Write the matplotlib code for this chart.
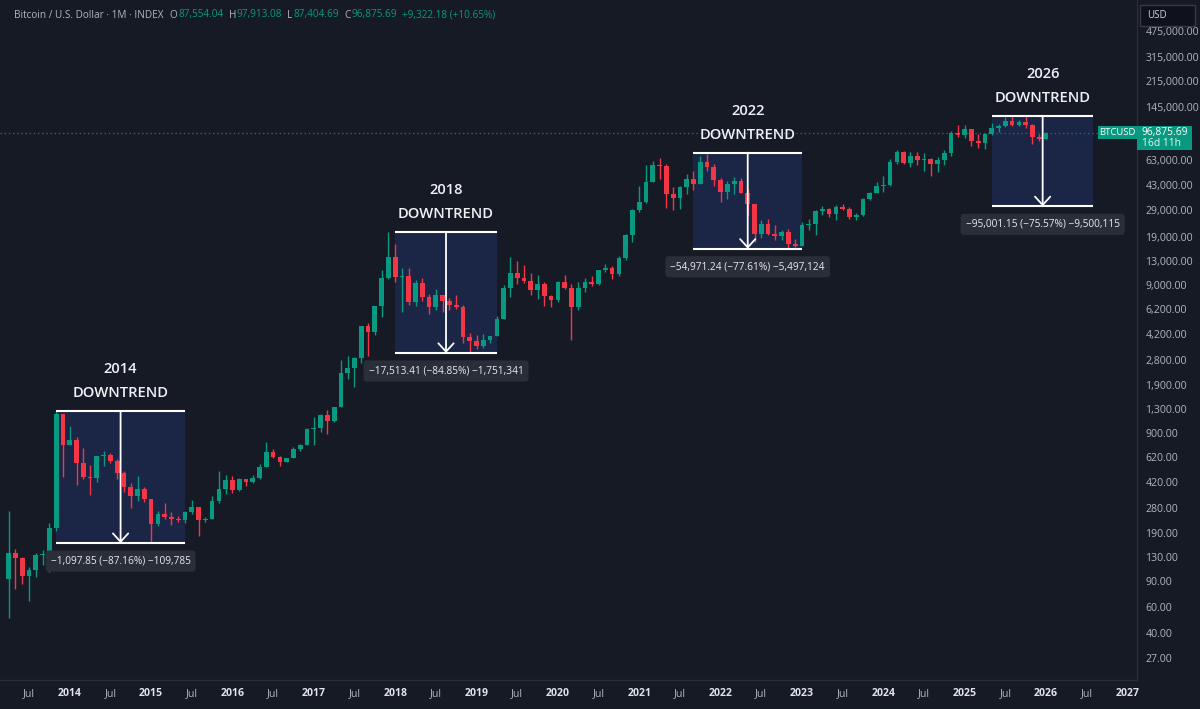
import numpy as np
import pandas as pd
import matplotlib
matplotlib.use("Agg")
import matplotlib.pyplot as plt
from matplotlib.patches import Rectangle
from matplotlib.ticker import NullLocator

plt.rcParams["font.family"] = ["Open Sans", "DejaVu Sans"]

# monthly BTC index candles, Apr 2013 .. Jan 2026
first_month = "2013-04-01"

opens = [
    93, 139, 129, 97, 106, 135, 133, 204, 1200,                                   # 2013
    750, 800, 560, 450, 448, 625, 640, 585, 480, 388, 338, 378,                   # 2014
    320, 217, 254, 244, 236, 230, 263, 284, 230, 236, 314, 377,                   # 2015
    430, 369, 436, 416, 448, 530, 673, 622, 574, 608, 698, 742,                   # 2016
    963, 965, 1190, 1080, 1348, 2300, 2480, 2875, 4735, 4340, 6460, 10000,        # 2017
    13850, 10200, 10330, 6930, 9240, 7500, 6390, 7730, 7030, 6630, 6370, 4040,    # 2018
    3740, 3460, 3850, 4100, 5330, 8570, 10820, 10080, 9600, 8300, 9150, 7550,     # 2019
    7190, 9390, 8540, 6430, 8650, 9450, 9140, 11350, 11660, 10780, 13800, 19700,  # 2020
    28990, 33100, 45200, 58800, 57700, 37300, 35040, 41460, 47100, 43800, 61300, 57000,  # 2021
    46200, 38500, 43200, 45500, 37700, 31800, 19900, 23300, 20050, 19430, 20500, 17170,  # 2022
    16550, 23130, 23150, 28480, 29250, 27200, 30480, 29230, 25940, 26970, 34650, 37720,  # 2023
    42280, 42580, 61180, 71300, 60650, 67500, 62700, 64600, 58970, 63300, 70200, 96400,  # 2024
    93400, 102400, 84350, 82550, 94200, 104600, 107100, 115700, 108250, 114050, 109600, 90400,  # 2025
    87554.04,                                                                      # 2026
]
highs = [
    266, 147, 130, 111, 139, 145, 220, 1260, 1215,
    1000, 850, 715, 545, 630, 680, 655, 600, 495, 415, 460, 385,
    320, 265, 300, 261, 247, 268, 315, 285, 243, 335, 500, 465,
    462, 445, 440, 467, 552, 780, 703, 630, 613, 720, 755, 975,
    1150, 1200, 1290, 1350, 2790, 2990, 2920, 4760, 5000, 6470, 11400, 20640,
    17200, 11800, 11700, 9760, 9990, 7780, 8500, 7760, 7400, 7680, 6600, 4300,
    4110, 4200, 4100, 5600, 9080, 13880, 13200, 12300, 10950, 10500, 9500, 7750,
    9580, 10500, 9180, 9480, 10080, 10380, 11440, 12480, 12090, 14100, 19940, 29300,
    41950, 58350, 61780, 64900, 59600, 41300, 42400, 50500, 52900, 67000, 69000, 59100,
    47900, 45800, 48200, 47500, 40000, 31900, 24700, 25200, 22800, 21100, 21500, 18400,
    23900, 25250, 29200, 31000, 29850, 31400, 31800, 30200, 27500, 35200, 38450, 44700,
    48970, 64000, 73800, 72800, 71950, 72000, 70000, 65600, 66500, 73600, 99800, 108300,
    109500, 102500, 95000, 95750, 111900, 110500, 123200, 124500, 117900, 125713, 110700, 94600,
    97913.08,
]
lows = [
    50, 79, 86, 66, 96, 115, 103, 196, 455,
    740, 400, 440, 340, 420, 540, 565, 440, 360, 280, 310, 305,
    162, 212, 236, 215, 225, 220, 253, 180, 225, 236, 300, 350,
    355, 365, 395, 413, 440, 530, 605, 535, 570, 605, 680, 740,
    750, 915, 890, 1060, 1345, 2100, 1830, 2670, 2980, 4110, 5500, 9900,
    9400, 5900, 6600, 6450, 7050, 5750, 6070, 5880, 6100, 6200, 3650, 3127,
    3350, 3400, 3680, 4080, 5330, 7450, 9100, 9350, 7700, 7300, 6530, 6430,
    6870, 8450, 3850, 6150, 8130, 8920, 8970, 10980, 9880, 10380, 13250, 17600,
    28130, 32300, 45000, 47000, 30000, 28800, 29300, 37300, 39600, 43300, 53300, 42000,
    32900, 34300, 37200, 37600, 26700, 17600, 18800, 19600, 18150, 18200, 15860, 16300,
    16500, 21400, 19550, 26950, 25850, 24800, 28900, 25300, 24900, 26550, 34100, 37600,
    38500, 41900, 59000, 59200, 56550, 58500, 53500, 49100, 52600, 58900, 66800, 90500,
    89200, 78200, 76600, 74500, 93400, 98200, 105300, 107300, 107300, 103500, 80600, 84500,
    87404.69,
]
closes = [
    139, 129, 97, 106, 135, 137, 204, 1200, 750,
    800, 560, 450, 448, 625, 640, 585, 480, 388, 338, 378, 320,
    217, 254, 244, 236, 230, 263, 284, 230, 236, 314, 377, 430,
    369, 436, 416, 448, 530, 673, 622, 574, 608, 698, 742, 963,
    965, 1190, 1080, 1348, 2300, 2480, 2875, 4735, 4340, 6460, 10000, 13850,
    10200, 10330, 6930, 9240, 7500, 6390, 7730, 7030, 6630, 6370, 4040, 3740,
    3460, 3850, 4100, 5330, 8570, 10820, 10080, 9600, 8300, 9150, 7550, 7190,
    9390, 8540, 6430, 8650, 9450, 9140, 11350, 11660, 10780, 13800, 19700, 28990,
    33100, 45200, 58800, 57700, 37300, 35040, 41460, 47100, 43800, 61300, 57000, 46200,
    38500, 43200, 45500, 37700, 31800, 19900, 23300, 20050, 19430, 20500, 17170, 16550,
    23130, 23150, 28480, 29250, 27200, 30480, 29230, 25940, 26970, 34650, 37720, 42280,
    42580, 61180, 71300, 60650, 67500, 62700, 64600, 58970, 63300, 70200, 96400, 93400,
    102400, 84350, 82550, 94200, 104600, 107100, 115700, 108250, 114050, 109600, 90400, 87554.04,
    96875.69,
]

# price range measurements (date range boxes)
box_titles = ["2014", "2018", "2022", "2026"]
box_start = ["2013-11", "2018-01", "2021-09", "2025-05"]
box_end = ["2015-06", "2019-04", "2023-01", "2026-08"]
box_change = [-1097.85, -17513.41, -54971.24, -95001.15]
box_pct = [-87.16, -84.85, -77.61, -75.57]
box_ticks = [-109785, -1751341, -5497124, -9500115]

y_ticks = [27, 40, 60, 90, 130, 190, 280, 420, 620, 900, 1300, 1900, 2800, 4200,
           6200, 9000, 13000, 19000, 29000, 43000, 63000, 145000, 215000, 315000, 475000]
x_tick_labels = ["Jul"] + [s for y in range(2014, 2027) for s in (str(y), "Jul")] + ["2027"]

BG = "#161a25"
UP = "#089981"
DOWN = "#f23645"
TXT = "#b2b5be"
BOX = "#1b2546"
W, H = 1200, 709


def year_frac(s):
    d = pd.Timestamp(s)
    return d.year + (d.month - 1) / 12


def fig_xy(px, py):
    return px / W, 1 - py / H


months = pd.date_range(first_month, periods=len(opens), freq="MS")
t = np.array(months.year + (months.month - 1) / 12, dtype=float)
o = np.array(opens, float)
h = np.array(highs, float)
l = np.array(lows, float)
c = np.array(closes, float)

fig = plt.figure(figsize=(W / 100, H / 100), dpi=100, facecolor=BG)
ax = fig.add_axes([0, 29 / H, 1137 / W, 680 / H])
ax.set_facecolor(BG)
ax.set_yscale("log")
ax.set_xlim(2013.143, 2027.118)
ax.set_ylim(19.17, 764000)

# boxes first so the candles sit on top
for title, s, e, chg, pct, tk in zip(box_titles, box_start, box_end, box_change, box_pct, box_ticks):
    x0, x1 = year_frac(s), year_frac(e)
    xm = (x0 + x1) / 2
    top = abs(chg) / abs(pct / 100)
    bot = top + chg
    ax.add_patch(Rectangle((x0, bot), x1 - x0, top - bot, facecolor=BOX, edgecolor="none", zorder=1))
    ax.hlines([top, bot], x0, x1, colors="white", lw=1.5, zorder=5)
    ax.annotate("", xy=(xm, bot), xytext=(xm, top),
                arrowprops=dict(arrowstyle="->,head_length=0.6,head_width=0.55", color="white",
                                lw=1.3, shrinkA=0, shrinkB=0), zorder=5)
    ax.annotate("DOWNTREND", xy=(xm, top), xytext=(0, 18), textcoords="offset pixels",
                ha="center", va="center", fontsize=10.6, color="#f0f2f6", fontweight="semibold")
    ax.annotate(title, xy=(xm, top), xytext=(0, 42), textcoords="offset pixels",
                ha="center", va="center", fontsize=10.6, color="#f0f2f6", fontweight="semibold")
    label = f"\u2212{abs(chg):,.2f} (\u2212{abs(pct):.2f}%) \u2212{abs(tk):,}"
    ax.annotate(label, xy=(xm, bot), xytext=(0, -18), textcoords="offset pixels",
                ha="center", va="center", fontsize=7.3, color="#e8eaf0", zorder=6,
                bbox=dict(boxstyle="round,pad=0.5,rounding_size=0.35", fc="#2a2e39", ec="none"))

# candles
colors = np.where(c >= o, UP, DOWN)
ax.vlines(t, l, h, colors=colors, lw=1, zorder=3)
lo = np.minimum(o, c)
hi = np.maximum(np.maximum(o, c), lo * 1.015)
ax.bar(t, hi - lo, bottom=lo, width=0.058, color=colors, linewidth=0, zorder=4)

# last price line
ax.axhline(c[-1], color="#2a6b66", lw=1, ls=(0, (1, 2)), zorder=2)

# axes styling
ax.yaxis.tick_right()
ax.set_yticks(y_ticks)
ax.set_yticklabels([f"{v:,.2f}" for v in y_ticks])
ax.yaxis.set_minor_locator(NullLocator())
ax.tick_params(axis="y", length=0, pad=6, labelsize=7.6, labelcolor=TXT)

x_pos = [2013.5 + 0.5 * i for i in range(len(x_tick_labels))]
ax.set_xticks(x_pos)
ax.set_xticklabels(x_tick_labels)
ax.xaxis.set_minor_locator(NullLocator())
ax.tick_params(axis="x", length=0, pad=6, labelsize=7.6, labelcolor=TXT)
for lab in ax.get_xticklabels():
    if lab.get_text() != "Jul":
        lab.set_color("#e0e3eb")
        lab.set_fontweight("bold")

for side in ["top", "left"]:
    ax.spines[side].set_visible(False)
for side in ["bottom", "right"]:
    ax.spines[side].set_color("#2a2e39")
    ax.spines[side].set_linewidth(1)

# header line, pieces laid out one after another
renderer = fig.canvas.get_renderer()
header = [("Bitcoin / U.S. Dollar \u00b7 1M \u00b7 INDEX", TXT, 6), ("O", TXT, 1), ("87,554.04", UP, 5),
          ("H", TXT, 1), ("97,913.08", UP, 5), ("L", TXT, 1), ("87,404.69", UP, 5),
          ("C", TXT, 1), ("96,875.69", UP, 5), ("+9,322.18 (+10.65%)", UP, 0)]
px = 14
for s, col, gap in header:
    txt = fig.text(*fig_xy(px, 15), s, color=col, fontsize=7.2, va="center")
    px += txt.get_window_extent(renderer).width + gap

# USD button
fig.add_artist(Rectangle(fig_xy(1140, 26), 55 / W, 21 / H, transform=fig.transFigure,
                         facecolor="#0f121a", edgecolor="#363a45", lw=1, zorder=5))
fig.text(*fig_xy(1147, 15.5), "USD", color="#d1d4dc", fontsize=7, va="center", zorder=6)

# last price tags
fig.add_artist(Rectangle(fig_xy(1098, 139), 39 / W, 13 / H, transform=fig.transFigure,
                         facecolor=UP, edgecolor="none", zorder=5))
fig.text(*fig_xy(1117.5, 132.5), "BTCUSD", color="white", fontsize=6.8, ha="center", va="center", zorder=6)
fig.add_artist(Rectangle(fig_xy(1137, 150), 55 / W, 24 / H, transform=fig.transFigure,
                         facecolor=UP, edgecolor="none", zorder=5))
fig.text(*fig_xy(1142, 132.5), "96,875.69", color="white", fontsize=7.4, va="center", zorder=6)
fig.text(*fig_xy(1142, 143.5), "16d 11h", color="#e8f5f2", fontsize=7.4, va="center", zorder=6)

fig.savefig("out.png", dpi=100, facecolor=BG)
